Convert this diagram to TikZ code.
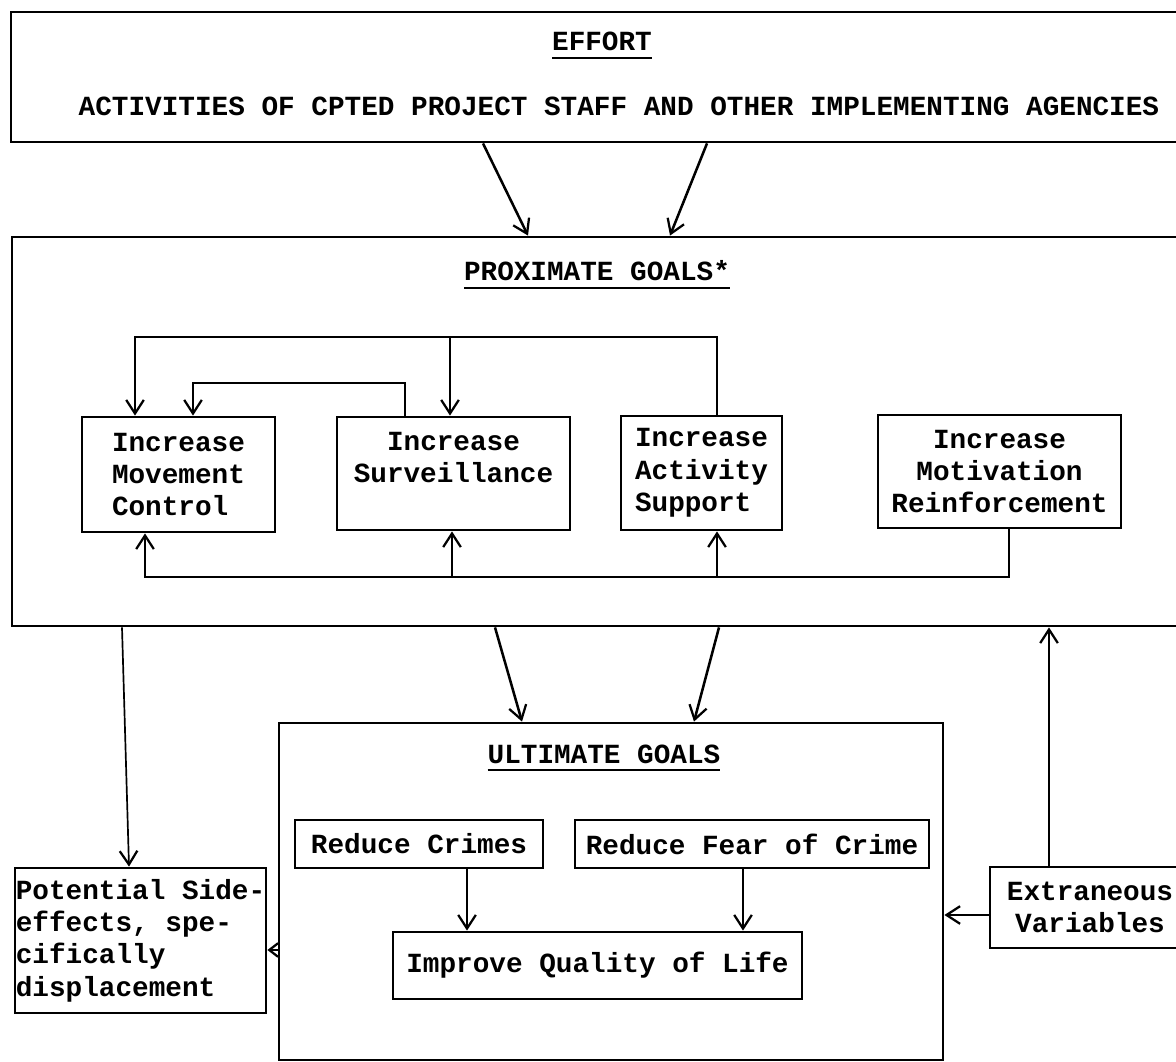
\documentclass[tikz,border=0pt]{standalone}
\usepackage{fontspec}
\setmonofont{Liberation Mono}
\newcommand{\ulin}[1]{\vtop{\hbox{#1}\kern4pt\hrule height 1.8pt}}
\usetikzlibrary{arrows.meta, positioning}

\begin{document}
\begin{tikzpicture}[x=0.025cm, y=-0.025cm,
        every node/.style={font=\ttfamily\bfseries\fontsize{19.7}{23}\selectfont},
        box/.style={draw, line width=2pt, inner sep=0pt},
        wh/.style 2 args={minimum width=#1*0.025cm, minimum height=#2*0.025cm},
        arr/.style={line width=1.8pt, -{Straight Barb[length=3.4mm, width=4.4mm, line width=1.6pt]}},
        thin arr/.style={arr, line width=1.2pt}]
            \useasboundingbox (0,0) rectangle (1176,1062);
            \clip (0,0) rectangle (1176,1062);

            \node[box, wh={1180}{130}] (effort) at (601,77) {};
            \node[anchor=base] (efftitle) at (602,51) {\ulin{EFFORT}};
            \node[anchor=base] (staff) at (619,116) {ACTIVITIES OF CPTED PROJECT STAFF AND OTHER IMPLEMENTING AGENCIES};

            \node[box, wh={1180}{389}] (prox) at (602,431.5) {};
            \node[anchor=base] (proxtitle) at (597,281) {\ulin{PROXIMATE GOALS*}};
            \node[box, wh={193}{115}, align=left] (move) at (178.5,474.5) {Increase\\Movement\\Control};
            \node[box, wh={233}{113}, align=center] (surv) at (453.5,473.5) {Increase\\Surveillance\\\mbox{}};
            \node[box, wh={161}{114}, align=left] (act) at (701.5,473) {Increase\\Activity\\Support};
            \node[box, wh={243}{113}, align=center] (mot) at (999.5,471.5) {Increase\\Motivation\\Reinforcement};

            \coordinate (tl) at (135,337);
            \coordinate (tm) at (450,337);
            \coordinate (tr) at (717,337);
            \coordinate (il) at (193,383);
            \coordinate (ir) at (405,383);
            \coordinate (bl) at (145,577);
            \coordinate (bs) at (452,577);
            \coordinate (ba) at (717,577);
            \coordinate (br) at (1009,577);

            \draw[arr] (act.north -| tr) -- (tr) -- (tl) -- (move.north -| tl);
            \draw[arr] (tm) -- (surv.north -| tm);
            \draw[arr] (surv.north -| ir) -- (ir) -- (il) -- (move.north -| il);
            \draw[arr] (mot.south -| br) -- (br) -- (bl) -- (move.south -| bl);
            \draw[arr] (bs) -- (surv.south -| bs);
            \draw[arr] (ba) -- (act.south -| ba);

            \draw[arr] (effort.south -| 483,0) -- (prox.north -| 528,0);
            \draw[arr] (effort.south -| 707,0) -- (prox.north -| 670,0);

            \node[box, wh={664}{337}] (ult) at (611,891.5) {};
            \node[anchor=base] (ulttitle) at (604,763) {\ulin{ULTIMATE GOALS}};
            \node[box, wh={248}{48}] (crimes) at (419,844) {Reduce Crimes};
            \node[box, wh={354}{48}] (fear) at (752,844) {Reduce Fear of Crime};
            \node[box, wh={409}{67}] (life) at (597.5,965.5) {Improve Quality of Life};

            \node[box, wh={251}{145}, align=left] (side) at (140.5,940.5)
                {Potential Side-\\effects, spe-\\cifically\\displacement};
            \node[box, wh={200}{81}, align=center] (extr) at (1090,907.5) {Extraneous\\Variables};

            \draw[arr] (crimes.south -| 467,0) -- (life.north -| 467,0);
            \draw[arr] (fear.south -| 743,0) -- (life.north -| 743,0);
            \draw[arr] (prox.south -| 495,0) -- (ult.north -| 522,0);
            \draw[arr] (prox.south -| 719,0) -- (ult.north -| 694,0);
            \draw[thin arr] (prox.south -| 122,0) -- (side.north -| 129,0);
            \draw[thin arr] (extr.north -| 1049,0) -- (prox.south -| 1049,0);
            \draw[arr] (extr.west |- 0,915) -- (ult.east |- 0,915);
            \draw[arr, -{Straight Barb[length=2.2mm, width=3.4mm, line width=1.6pt]}] (ult.west |- 0,950) -- (side.east |- 0,950);
        \end{tikzpicture}
\end{document}
